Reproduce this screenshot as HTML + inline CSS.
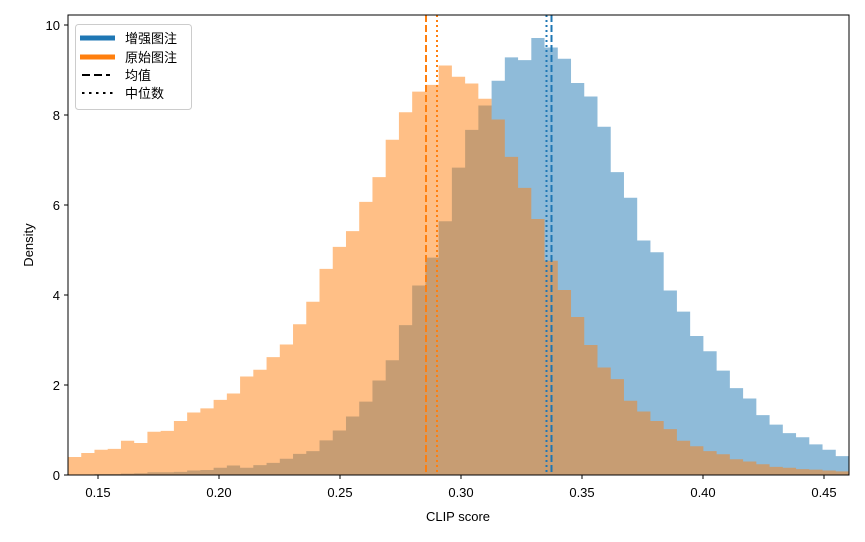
<!DOCTYPE html>
<html><head><meta charset="utf-8">
<style>
html,body{margin:0;padding:0;background:#fff;}
svg{display:block;font-family:"Liberation Sans","Noto Sans CJK SC",sans-serif;}
</style></head>
<body>
<svg id="s" width="865" height="542" viewBox="0 0 865 542" xmlns="http://www.w3.org/2000/svg">
<rect width="865" height="542" fill="#fff"/>
<g id="bars"></g>
<line x1="426" y1="15" x2="426" y2="475" stroke="#ff7f0e" stroke-width="2" stroke-dasharray="7,3"/>
<line x1="437" y1="15" x2="437" y2="475" stroke="#ff7f0e" stroke-width="2" stroke-dasharray="2,3"/>
<line x1="546.5" y1="15" x2="546.5" y2="475" stroke="#1f77b4" stroke-width="2" stroke-dasharray="2,3"/>
<line x1="551.5" y1="15" x2="551.5" y2="475" stroke="#1f77b4" stroke-width="2" stroke-dasharray="7,3"/>
<rect x="68" y="15" width="781" height="460" fill="none" stroke="#000" stroke-width="1"/>
<g id="ticks" stroke="#000" stroke-width="1"></g>
<g font-size="13" fill="#000" id="labels"></g>
<text x="458" y="521" font-size="13" text-anchor="middle">CLIP score</text>
<text x="33" y="245" font-size="13" text-anchor="middle" transform="rotate(-90 33 245)">Density</text>
<rect x="75.5" y="24.5" width="116" height="85" rx="3" fill="#fff" fill-opacity="0.8" stroke="#ccc"/>
<line x1="80" y1="38" x2="115" y2="38" stroke="#1f77b4" stroke-width="5"/>
<line x1="80" y1="57" x2="115" y2="57" stroke="#ff7f0e" stroke-width="5"/>
<line x1="82" y1="75" x2="110" y2="75" stroke="#000" stroke-width="2" stroke-dasharray="8,4"/>
<line x1="82" y1="93" x2="113" y2="93" stroke="#000" stroke-width="2" stroke-dasharray="2.5,4.5"/>
<g font-size="13" font-family="'Noto Sans CJK SC',sans-serif">
<text x="125" y="43">增强图注</text>
<text x="125" y="62">原始图注</text>
<text x="125" y="80">均值</text>
<text x="125" y="98">中位数</text>
</g>
</svg>
<script>
var O=[0.40,0.49,0.56,0.58,0.76,0.71,0.96,0.98,1.20,1.39,1.48,1.67,1.81,2.19,2.34,2.62,2.90,3.35,3.85,4.58,5.07,5.42,6.07,6.62,7.45,8.06,8.52,8.67,9.10,8.85,8.70,8.36,7.90,7.07,6.38,5.69,4.76,4.11,3.51,2.89,2.39,2.13,1.65,1.41,1.20,1.02,0.76,0.64,0.53,0.46,0.35,0.30,0.24,0.18,0.16,0.13,0.12,0.10,0.08];
var B=[0.01,0.01,0.02,0.02,0.03,0.04,0.06,0.06,0.07,0.10,0.11,0.16,0.21,0.16,0.22,0.27,0.36,0.47,0.53,0.77,0.99,1.30,1.63,2.10,2.55,3.33,4.21,4.83,5.64,6.83,7.67,8.21,8.76,9.28,9.22,9.71,9.50,9.25,8.71,8.41,7.74,6.73,6.16,5.21,4.95,4.10,3.63,3.09,2.75,2.32,1.93,1.70,1.33,1.12,0.93,0.84,0.68,0.56,0.42];
var NS="http://www.w3.org/2000/svg",g=document.getElementById('bars'),w=781/59;
function draw(a,c){var d="M68,475";for(var i=0;i<a.length;i++){var y=475-a[i]*45;d+=" L"+(68+i*w).toFixed(2)+","+y.toFixed(2)+" L"+(68+(i+1)*w).toFixed(2)+","+y.toFixed(2);}d+=" L849,475 Z";var p=document.createElementNS(NS,'path');p.setAttribute('d',d);p.setAttribute('fill',c);p.setAttribute('fill-opacity','0.5');g.appendChild(p);}
draw(B,'#1f77b4');draw(O,'#ff7f0e');
var t=document.getElementById('ticks'),l=document.getElementById('labels');
function ln(x1,y1,x2,y2){var e=document.createElementNS(NS,'line');e.setAttribute('x1',x1);e.setAttribute('y1',y1);e.setAttribute('x2',x2);e.setAttribute('y2',y2);t.appendChild(e);}
function tx(x,y,s,a){var e=document.createElementNS(NS,'text');e.setAttribute('x',x);e.setAttribute('y',y);e.setAttribute('text-anchor',a);e.textContent=s;l.appendChild(e);}
["0.15","0.20","0.25","0.30","0.35","0.40","0.45"].forEach(function(s,i){var x=98+i*121;ln(x,475,x,479);tx(x,497,s,'middle');});
for(var k=0;k<=10;k+=2){var y=475-k*45;ln(64,y,68,y);tx(60,y+5,""+k,'end');}
</script>
</body></html>
